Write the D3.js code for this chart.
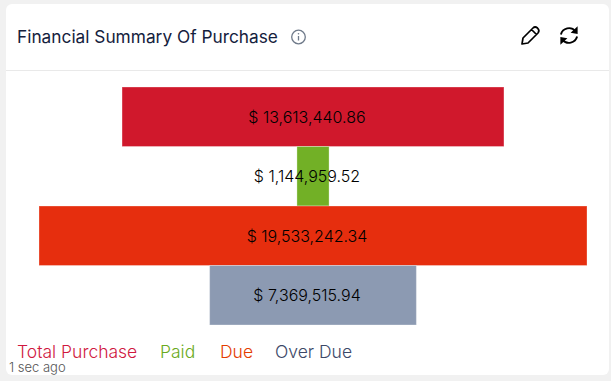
<!DOCTYPE html>
<html>
<head>
<meta charset="utf-8">
<style>
  html, body { margin: 0; padding: 0; background: #f1f1f1; overflow: hidden; }
  text { font-family: "Inter", sans-serif; }
</style>
</head>
<body>
<div id="chart"></div>
<script src="https://cdn.jsdelivr.net/npm/d3@7/dist/d3.min.js"></script>
<script>
var width = 611, height = 381;

var categories = ["Total Purchase", "Paid", "Due", "Over Due"];
var values = [13613440.86, 1144959.52, 19533242.34, 7369515.94];
var labels = ["$ 13,613,440.86", "$ 1,144,959.52", "$ 19,533,242.34", "$ 7,369,515.94"];
var barColors = ["#d0182c", "#72b026", "#e62e0e", "#8c9ab2"];
var legendColors = ["#d0183f", "#6aaa20", "#e43c00", "#3c4868"];
var legendX = [17, 160, 220, 275];

var svg = d3.select("#chart")
    .append("svg")
    .attr("width", width)
    .attr("height", height)
    .style("display", "block");

// card
svg.append("rect")
    .attr("x", 6).attr("y", 4)
    .attr("width", 603).attr("height", 371)
    .attr("rx", 6)
    .attr("fill", "#fff");

svg.append("line")
    .attr("x1", 6).attr("x2", 609)
    .attr("y1", 70.5).attr("y2", 70.5)
    .attr("stroke", "#e9e9e9");

svg.append("text")
    .attr("x", 17).attr("y", 43)
    .attr("font-size", 17.3)
    .attr("fill", "#14213d")
    .text("Financial Summary Of Purchase");

// info icon
var info = svg.append("g").attr("transform", "translate(298.5,37)");
info.append("circle").attr("r", 6.8).attr("fill", "none").attr("stroke", "#6f7a8a").attr("stroke-width", 1.3);
info.append("line").attr("y1", -1).attr("y2", 3.5).attr("stroke", "#6f7a8a").attr("stroke-width", 1.3);
info.append("circle").attr("cy", -3.2).attr("r", 0.8).attr("fill", "#6f7a8a");

// pencil icon
svg.append("path")
    .attr("transform", "translate(521,26)")
    .attr("d", "M1 18 L2 12 L12 2 Q14 0 16.5 2 Q19 4.5 17 7 L7 17 Z M10.5 3.5 L15.5 8.5")
    .attr("fill", "none")
    .attr("stroke", "#000")
    .attr("stroke-width", 1.7)
    .attr("stroke-linejoin", "round");

// refresh icon
var refresh = svg.append("g").attr("transform", "translate(569,35.5) scale(1.08)");
refresh.append("path")
    .attr("d", "M-7.5 -1 A7.8 7.8 0 0 1 6 -4 M7.5 1 A7.8 7.8 0 0 1 -6 4")
    .attr("fill", "none").attr("stroke", "#000").attr("stroke-width", 1.8);
refresh.append("path").attr("d", "M8 -8.5 L8 -1.5 L1.5 -2.5 Z").attr("fill", "#000");
refresh.append("path").attr("d", "M-8 8.5 L-8 1.5 L-1.5 2.5 Z").attr("fill", "#000");

// funnel bars
var widthScale = d3.scaleLinear()
    .domain([0, d3.max(values)])
    .range([0, 548]);

var yScale = d3.scaleBand()
    .domain(categories)
    .range([87, 325])
    .padding(0);

var centerX = 313;

svg.selectAll("rect.bar")
    .data(values)
    .enter()
    .append("rect")
    .attr("class", "bar")
    .attr("x", function(d){ return centerX - widthScale(d) / 2 })
    .attr("y", function(d, i){ return yScale(categories[i]) })
    .attr("width", function(d){ return widthScale(d) })
    .attr("height", yScale.bandwidth())
    .attr("fill", function(d, i){ return barColors[i] })
    .attr("stroke", "#fff")
    .attr("stroke-opacity", 0.3);

svg.selectAll("text.value")
    .data(labels)
    .enter()
    .append("text")
    .attr("class", "value")
    .attr("x", centerX - 6)
    .attr("y", function(d, i){ return yScale(categories[i]) + yScale.bandwidth() / 2 + 6 })
    .attr("text-anchor", "middle")
    .attr("font-size", 16)
    .attr("font-weight", 300)
    .attr("fill", "#000")
    .text(function(d){ return d });

// legend
svg.selectAll("text.legend")
    .data(categories)
    .enter()
    .append("text")
    .attr("class", "legend")
    .attr("x", function(d, i){ return legendX[i] })
    .attr("y", 358)
    .attr("font-size", 17.5)
    .attr("font-weight", 300)
    .attr("fill", function(d, i){ return legendColors[i] })
    .text(function(d){ return d });

svg.append("text")
    .attr("x", 9).attr("y", 372)
    .attr("font-size", 13)
    .attr("font-weight", 300)
    .attr("fill", "#555")
    .text("1 sec ago");
</script>
</body>
</html>
